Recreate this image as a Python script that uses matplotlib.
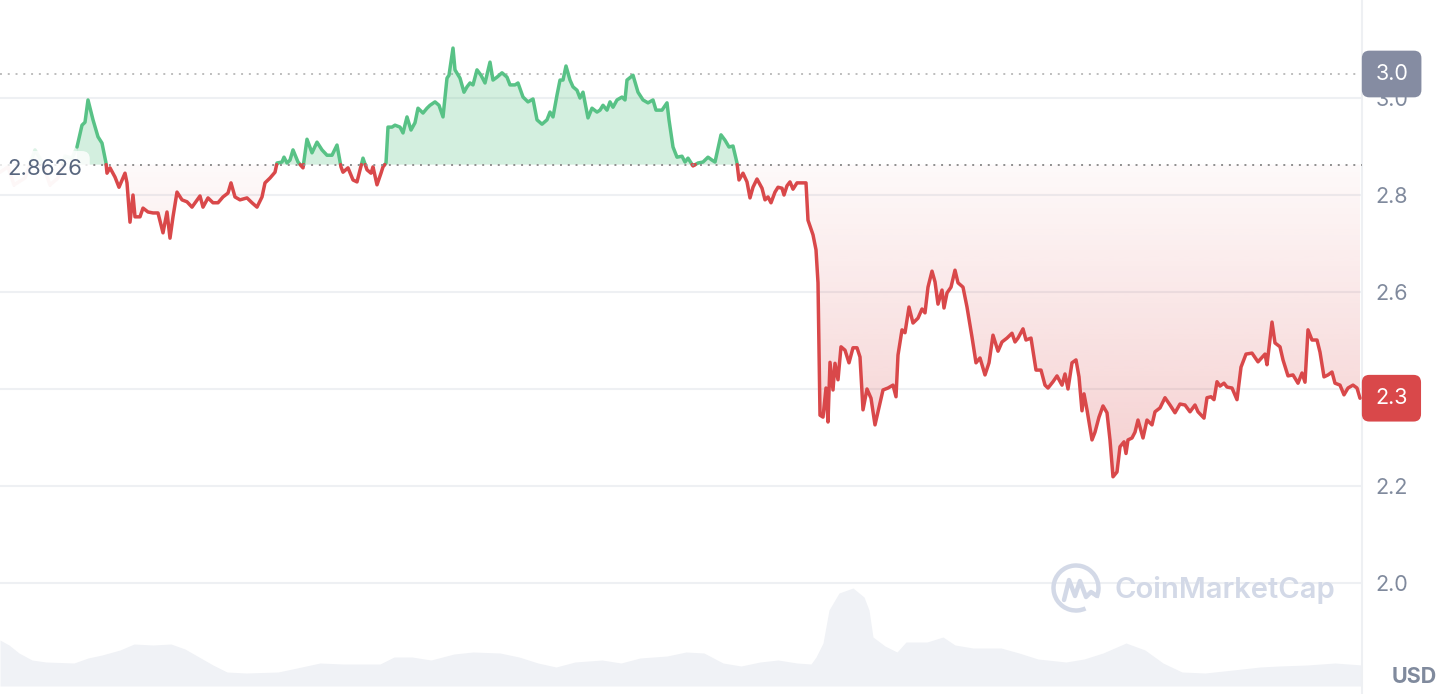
import numpy as np
import matplotlib.pyplot as plt
from matplotlib.patches import Arc
from matplotlib.path import Path

plt.rcParams['font.family'] = ['Inter', 'DejaVu Sans']

# price samples (time in minutes of the window, price in USD)
minutes = [0, 8, 14, 25, 35, 42, 50, 58, 65, 72, 77,
           82, 85, 88, 93, 98, 102, 106, 107, 110, 115, 119, 125, 127, 130, 133, 135, 140, 143, 148,
           153, 158, 163, 167, 170, 173, 177, 182, 187, 192, 200, 203, 208, 213, 218, 223, 228, 231,
           235, 240, 247, 252, 257, 262, 265, 270, 275, 277, 282, 284, 287, 290, 293, 298, 303, 307,
           312, 317, 322, 327, 332, 337, 341, 343, 348, 353, 357, 363, 367, 371, 373, 377, 381, 383,
           386, 388, 392, 395, 400, 403, 407, 411, 415, 418, 423, 427, 430, 435, 439, 443, 447, 449,
           453, 455, 460, 464, 467, 470, 473, 477, 481, 485, 490, 493, 497, 502, 507, 510, 515, 518,
           523, 528, 533, 537, 542, 547, 550, 553, 557, 560, 563, 566, 570, 573, 577, 580, 583, 588,
           592, 597, 600, 603, 607, 610, 613, 617, 622, 625, 627, 633, 638, 643, 648, 653, 656, 662,
           667, 669, 673, 677, 682, 685, 688, 693, 698, 703, 708, 712, 715, 721, 725, 729, 733, 737,
           739, 743, 747, 750, 753, 757, 762, 765, 768, 771, 775, 778, 782, 784, 787, 790, 793, 797,
           802, 806, 808, 813, 816, 818, 819, 820, 823, 826, 828, 830, 833, 835, 838, 841, 845, 849,
           853, 857, 860, 863, 867, 871, 875, 880, 883, 888, 893, 896, 898, 902, 905, 909, 913, 918,
           922, 925, 928, 932, 935, 938, 942, 944, 947, 951, 955, 958, 963, 967, 972, 976, 980, 985,
           989, 993, 998, 1002, 1007, 1012, 1015, 1018, 1023, 1026, 1031, 1036, 1041, 1045, 1048,
           1053, 1057, 1062, 1065, 1068, 1072, 1076, 1079, 1082, 1084, 1087, 1092, 1095, 1099, 1103,
           1107, 1110, 1113, 1117, 1120, 1124, 1126, 1128, 1132, 1135, 1138, 1143, 1147, 1152, 1155,
           1160, 1165, 1170, 1175, 1180, 1185, 1190, 1195, 1198, 1204, 1207, 1211, 1214, 1217, 1220,
           1224, 1227, 1232, 1237, 1241, 1246, 1252, 1258, 1265, 1267, 1272, 1275, 1280, 1283, 1288,
           1293, 1298, 1302, 1305, 1308, 1312, 1317, 1320, 1324, 1328, 1332, 1335, 1340, 1344, 1348,
           1353, 1357, 1360]
price = [2.847, 2.858, 2.821, 2.835, 2.893, 2.868, 2.821, 2.835, 2.880, 2.876, 2.899,
         2.944, 2.950, 2.996, 2.955, 2.920, 2.907, 2.866, 2.845, 2.856, 2.837, 2.816, 2.845, 2.825, 2.744, 2.800, 2.755, 2.755, 2.773, 2.765,
         2.763, 2.763, 2.722, 2.765, 2.711, 2.755, 2.806, 2.790, 2.786, 2.775, 2.798, 2.775, 2.794, 2.784, 2.784, 2.796, 2.804, 2.825,
         2.796, 2.790, 2.794, 2.784, 2.775, 2.796, 2.825, 2.835, 2.847, 2.866, 2.868, 2.878, 2.866, 2.872, 2.893, 2.868, 2.856, 2.915,
         2.887, 2.909, 2.893, 2.882, 2.882, 2.903, 2.858, 2.847, 2.856, 2.831, 2.827, 2.876, 2.852, 2.845, 2.858, 2.821, 2.845, 2.858,
         2.866, 2.940, 2.940, 2.944, 2.940, 2.928, 2.961, 2.934, 2.949, 2.979, 2.969, 2.979, 2.985, 2.992, 2.985, 2.961, 3.041, 3.047,
         3.103, 3.058, 3.041, 3.012, 3.023, 3.031, 3.027, 3.058, 3.047, 3.031, 3.074, 3.037, 3.043, 3.052, 3.043, 3.027, 3.027, 3.031,
         3.002, 2.992, 2.998, 2.955, 2.946, 2.955, 2.971, 2.961, 3.006, 3.037, 3.037, 3.066, 3.037, 3.023, 3.016, 3.000, 3.012, 2.959,
         2.979, 2.971, 2.975, 2.985, 2.975, 2.992, 2.981, 2.996, 3.002, 2.996, 3.037, 3.047, 3.012, 2.996, 2.990, 2.996, 2.975, 2.975,
         2.990, 2.955, 2.899, 2.878, 2.880, 2.868, 2.876, 2.860, 2.866, 2.868, 2.878, 2.872, 2.868, 2.924, 2.913, 2.899, 2.901, 2.866,
         2.831, 2.845, 2.827, 2.794, 2.816, 2.833, 2.814, 2.790, 2.796, 2.784, 2.806, 2.816, 2.814, 2.800, 2.819, 2.827, 2.812, 2.825,
         2.825, 2.825, 2.748, 2.718, 2.687, 2.619, 2.480, 2.346, 2.342, 2.402, 2.332, 2.455, 2.398, 2.453, 2.419, 2.487, 2.480, 2.454,
         2.485, 2.485, 2.466, 2.357, 2.400, 2.381, 2.326, 2.371, 2.398, 2.402, 2.408, 2.384, 2.470, 2.522, 2.516, 2.569, 2.536, 2.546,
         2.565, 2.557, 2.610, 2.643, 2.621, 2.575, 2.604, 2.567, 2.598, 2.610, 2.645, 2.619, 2.610, 2.569, 2.507, 2.454, 2.464, 2.429,
         2.454, 2.511, 2.478, 2.497, 2.505, 2.515, 2.497, 2.505, 2.524, 2.501, 2.505, 2.439, 2.439, 2.408, 2.402,
         2.415, 2.427, 2.408, 2.431, 2.400, 2.454, 2.460, 2.425, 2.355, 2.390, 2.357, 2.295, 2.311, 2.342, 2.365,
         2.351, 2.295, 2.219, 2.229, 2.281, 2.291, 2.267, 2.295, 2.299, 2.311, 2.336, 2.299, 2.336, 2.326, 2.353,
         2.361, 2.382, 2.367, 2.351, 2.369, 2.367, 2.353, 2.367, 2.353, 2.340, 2.382, 2.384, 2.378, 2.415, 2.406,
         2.412, 2.404, 2.402, 2.378, 2.445, 2.472, 2.474, 2.456, 2.472, 2.450, 2.538, 2.495, 2.487, 2.460, 2.427,
         2.429, 2.412, 2.433, 2.414, 2.522, 2.501, 2.501, 2.476, 2.425, 2.429, 2.435, 2.412, 2.408, 2.388, 2.402,
         2.408, 2.402, 2.381]

vol_minutes = [0, 9, 19, 32, 46, 74, 88, 102, 120, 134, 153, 171, 185, 199, 213, 227, 246, 278,
               297, 320, 343, 380, 394, 412, 431, 454, 473, 500, 519, 538, 556, 575, 602, 621, 640,
               667, 686, 704, 723, 741, 760, 778, 797, 811, 816, 823, 829, 839, 853, 864, 869, 873,
               885, 897, 906, 927, 943, 955, 973, 1001, 1019, 1038, 1066, 1084, 1103, 1126, 1145,
               1163, 1182, 1205, 1233, 1260, 1279, 1307, 1335, 1362]
volume = [18.4, 16.4, 13.2, 10.4, 9.6, 9.2, 11.2, 12.4, 14.4, 16.8, 16.4, 16.8, 14.8, 11.6, 8.4,
          5.6, 5.2, 5.6, 7.2, 9.2, 8.8, 8.8, 11.6, 11.6, 10.4, 12.8, 13.6, 13.2, 11.6, 9.2, 7.6, 9.6,
          10.4, 9.2, 11.2, 12.0, 13.6, 13.2, 9.2, 8.0, 9.6, 10.4, 9.2, 8.8, 11.6, 17.2, 30.4, 37.2,
          39.2, 35.6, 30.4, 19.6, 16.0, 13.6, 17.6, 17.6, 19.6, 16.4, 15.2, 15.2, 13.2, 10.8, 9.6,
          10.8, 13.2, 17.2, 14.4, 9.2, 5.6, 5.2, 6.4, 7.6, 8.0, 8.4, 9.2, 8.4]

BASE = 2.8626          # opening price (reference line)
HIGH = 3.0495          # grey marker line
yticks = [2.0, 2.2, 2.4, 2.6, 2.8, 3.0]
high_label = '3.0'
last_label = '2.3'

GREEN = '#58C286'
RED = '#D9484A'
GRID = '#EEF0F3'
TXT = '#808A9D'
assert len(minutes) == len(price)
assert len(vol_minutes) == len(volume)


def split_cross(t, v, base):
    # add points where the line crosses the base, so colours switch cleanly
    tt, vv = [t[0]], [v[0]]
    for i in range(1, len(t)):
        a, b = v[i - 1] - base, v[i] - base
        if a * b < 0:
            tt.append(t[i - 1] + (t[i] - t[i - 1]) * a / (a - b))
            vv.append(base)
        tt.append(t[i])
        vv.append(v[i])
    return np.array(tt), np.array(vv)


W, H = 1446, 694
fig = plt.figure(figsize=(W / 100, H / 100), dpi=100)
plot_w = 1362 / W
XMAX = 1362

# volume strip
ax_vol = fig.add_axes([0, 8 / H, plot_w, 100 / H], zorder=0)
ax_vol.fill_between(vol_minutes, volume, 0, color='#F0F2F6', lw=0)
ax_vol.set_xlim(0, XMAX)
ax_vol.set_ylim(0, 40)
ax_vol.axis('off')

ax = fig.add_axes([0, 0, plot_w, 1], zorder=1)
ax.patch.set_alpha(0)

for v in yticks:
    ax.axhline(v, color=GRID, lw=1.5, zorder=0)
ax.axhline(HIGH, color='#BDBDBD', lw=1.4, ls=(0, (1, 3)), zorder=0.5)
ax.axhline(BASE, color='#8E8E8E', lw=1.4, ls=(0, (1, 3)), zorder=5)

tt, pp = split_cross(np.array(minutes, float), np.array(price, float), BASE)
red_rgb = np.array([217, 72, 74]) / 255


def draw(mask, alpha):
    x, y = tt[mask], pp[mask]
    up = np.where(y >= BASE, y, np.nan)
    dn = np.where(y <= BASE, y, np.nan)
    ax.fill_between(x, y, BASE, where=y >= BASE, color=GREEN, alpha=0.26 * alpha, lw=0, zorder=2)
    poly = ax.fill_between(x, y, BASE, where=y <= BASE, facecolor='none', lw=0)
    paths = poly.get_paths()
    if paths:
        grad = np.zeros((256, 1, 4))
        grad[..., :3] = red_rgb
        grad[:, 0, 3] = np.linspace(0.03, 0.27, 256) * alpha
        im = ax.imshow(grad, extent=[x.min(), x.max(), 2.2, BASE], aspect='auto',
                       origin='upper', interpolation='bilinear', zorder=1)
        im.set_clip_path(Path.make_compound_path(*paths), ax.transData)
    kw = dict(lw=2.5, alpha=alpha, zorder=4, solid_joinstyle='round', solid_capstyle='round')
    ax.plot(x, up, color=GREEN, **kw)
    ax.plot(x, dn, color=RED, **kw)


draw(tt <= 77, 0.2)
draw(tt >= 77, 1.0)

ax.set_xlim(0, XMAX)
ax.set_ylim(1.7711, 3.2021)
ax.set_xticks([])
ax.set_yticks(yticks)
ax.set_yticklabels([f'{v:.1f}' for v in yticks])
ax.yaxis.tick_right()
ax.tick_params(axis='y', length=0, pad=9.5, labelsize=15.5, labelcolor=TXT)
for s in ['top', 'left', 'bottom']:
    ax.spines[s].set_visible(False)
ax.spines['right'].set_color(GRID)
ax.spines['right'].set_linewidth(1.5)

# value tags on the right axis
for val, txt, col in [(HIGH, high_label, '#858CA2'), (price[-1], last_label, RED)]:
    ax.annotate(txt, xy=(1, val), xycoords=('axes fraction', 'data'), xytext=(9.5, 0),
                textcoords='offset points', ha='left', va='center', fontsize=15.5, color='white',
                zorder=10, annotation_clip=False,
                bbox=dict(boxstyle='round,pad=0.62,rounding_size=0.35', fc=col, ec='none'))

ax.annotate(f'{BASE:.4f}', xy=(7, BASE), xytext=(0, -3), textcoords='offset points',
            ha='left', va='center', fontsize=16, color='#58667E', zorder=6,
            bbox=dict(boxstyle='round,pad=0.35', fc='white', ec='none', alpha=0.8))

fig.text(1414 / W, 1 - 677 / H, 'USD', ha='center', va='center', fontsize=15.5,
         fontweight='bold', color=TXT)

# CoinMarketCap watermark
ov = fig.add_axes([0, 0, 1, 1], zorder=3)
ov.set_xlim(0, W)
ov.set_ylim(H, 0)
ov.axis('off')
ov.patch.set_alpha(0)
wm = '#D3D9E7'
ov.add_patch(Arc((1076, 588), 45, 45, theta1=65, theta2=385, lw=3.2, color=wm))
ov.plot([1064, 1069, 1075, 1080, 1086, 1091, 1097], [600, 580, 596, 581, 597, 592, 596],
        color=wm, lw=3.2, solid_joinstyle='round', solid_capstyle='round')
ov.text(1114, 590, 'CoinMarketCap', ha='left', va='center', fontsize=21,
        fontweight='semibold', color=wm)

fig.savefig('out.png', dpi=100)
